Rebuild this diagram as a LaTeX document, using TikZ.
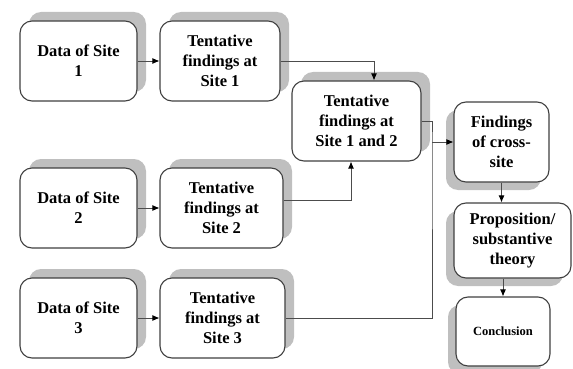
\documentclass[tikz,border=0pt]{standalone}
\usepackage{fontspec}
\setmainfont{Liberation Serif}
\usetikzlibrary{arrows.meta,shadows}

\begin{document}
\begin{tikzpicture}[x=1pt,y=-1pt,
    box/.style={draw=black!75,line width=1.1pt,fill=white,rounded corners=12pt,
      inner sep=0pt,minimum height=80pt,align=center,
      font=\fontsize{16.5}{20}\selectfont\bfseries},
    upshadow/.style={drop shadow={shadow xshift=9pt,shadow yshift=9pt,fill=black!25,opacity=1}},
    downshadow/.style={drop shadow={shadow xshift=-8pt,shadow yshift=-8pt,fill=black!25,opacity=1}},
    link/.style={draw=black!70,line width=0.9pt},
    >={Latex[length=7pt,width=6pt,color=black]}]

  \useasboundingbox (0,0) rectangle (573,369);

  \begin{scope}[every node/.style={box,upshadow}]
    \node (data1) at (78.5,61)  [minimum width=117pt] {Data of Site\\1};
    \node (tent1) at (220,61)   [minimum width=120pt] {Tentative\\findings at\\Site 1};
    \node (data2) at (78.5,208) [minimum width=117pt] {Data of Site\\2};
    \node (tent2) at (221.5,208) [minimum width=123pt] {Tentative\\findings at\\Site 2};
    \node (data3) at (78.5,318) [minimum width=117pt] {Data of Site\\3};
    \node (tent3) at (222.5,318) [minimum width=125pt] {Tentative\\findings at\\Site 3};
    \node (t12)   at (356.5,121) [minimum width=129pt] {Tentative\\findings at\\Site 1 and 2};
  \end{scope}

  \begin{scope}[every node/.style={box,downshadow}]
    \node (find)  at (501.5,142) [minimum width=95pt] {Findings\\of cross-\\site};
    \node (prop)  at (512.5,240.5) [minimum width=117pt,minimum height=75pt] {Proposition/\\substantive\\theory};
    \node (concl) at (503,331.5) [minimum width=94pt,minimum height=69pt,
      font=\fontsize{12.5}{15}\selectfont\bfseries] {Conclusion};
  \end{scope}

  \coordinate (split) at (432,142);

  \begin{scope}[every path/.style={link}]
    \draw[->] (data1) -- (tent1);
    \draw[->] (data2) -- (tent2);
    \draw[->] (data3) -- (tent3);
    \draw[->] (tent1.east) -| ([xshift=17.5pt]t12.north);
    \draw[->] ([yshift=8pt]tent2.east) -| ([xshift=-5.5pt]t12.south);
    \draw (t12.east) -| (split) |- (tent3.east);
    \draw[->] (split) -- (find.west);
    \draw[->] (find.south) -- (find.south |- prop.north);
    \draw[->] (concl.north |- prop.south) -- (concl.north);
  \end{scope}

\end{tikzpicture}
\end{document}
